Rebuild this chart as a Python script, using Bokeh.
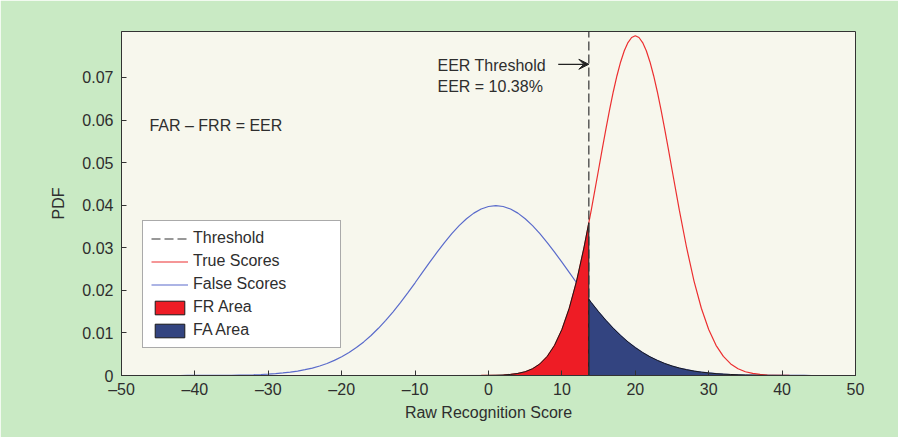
from bokeh.plotting import figure
from bokeh.models import Legend, LegendItem, FixedTicker, Label, Arrow, VeeHead, Range1d
from bokeh.embed import file_html
from bokeh.resources import INLINE

# ---- data ----
score_x = list(range(-50, 51))

false_pdf = [
    0, 0, 0, 0, 0, 0, 0, 0, 0, 0.00001,
    0.00001, 0.00001, 0.00002, 0.00003, 0.00004, 0.00006, 0.00009, 0.00012, 0.00017, 0.00024,
    0.00033, 0.00044, 0.00060, 0.00079, 0.00104, 0.00136, 0.00175, 0.00224, 0.00283, 0.00355,
    0.00440, 0.00540, 0.00656, 0.00789, 0.00940, 0.01109, 0.01295, 0.01497, 0.01714, 0.01942,
    0.02178, 0.02420, 0.02661, 0.02897, 0.03122, 0.03332, 0.03520, 0.03682, 0.03814, 0.03910,
    0.03969, 0.03989, 0.03969, 0.03910, 0.03814, 0.03682, 0.03520, 0.03332, 0.03122, 0.02897,
    0.02661, 0.02420, 0.02178, 0.01942, 0.01714, 0.01497, 0.01295, 0.01109, 0.00940, 0.00789,
    0.00656, 0.00540, 0.00440, 0.00355, 0.00283, 0.00224, 0.00175, 0.00136, 0.00104, 0.00079,
    0.00060, 0.00044, 0.00033, 0.00024, 0.00017, 0.00012, 0.00009, 0.00006, 0.00004, 0.00003,
    0.00002, 0.00001, 0.00001, 0.00001, 0, 0, 0, 0, 0, 0,
    0,
]

true_x = [
    -50, -40, -30, -20, -10, -5, -1,
    0, 1, 2, 3, 4, 5, 6, 7, 8, 9,
    10, 11, 12, 13, 14, 15, 15.5, 16, 16.5, 17, 17.5, 18, 18.5, 19, 19.5,
    20, 20.5, 21, 21.5, 22, 22.5, 23, 23.5, 24, 24.5, 25, 26, 27, 28, 29,
    30, 31, 32, 33, 34, 35, 36, 37, 38, 39,
    40, 41, 42, 50,
]
true_pdf = [
    0, 0, 0, 0, 0, 0, 0.00001,
    0.00003, 0.00006, 0.00012, 0.00025, 0.00048, 0.00089, 0.00158, 0.00272, 0.00448, 0.00709,
    0.01080, 0.01579, 0.02218, 0.02995, 0.03884, 0.04839, 0.05322, 0.05794, 0.06245, 0.06665, 0.07041, 0.07365, 0.07628, 0.07821, 0.07939,
    0.07979, 0.07939, 0.07821, 0.07628, 0.07365, 0.07041, 0.06665, 0.06245, 0.05794, 0.05322, 0.04839, 0.03884, 0.02995, 0.02218, 0.01579,
    0.01080, 0.00709, 0.00448, 0.00272, 0.00158, 0.00089, 0.00048, 0.00025, 0.00012, 0.00006,
    0.00003, 0.00001, 0, 0,
]

threshold = 13.67
true_at_threshold = 0.0359
false_at_threshold = 0.0179

x_ticks = [-50, -40, -30, -20, -10, 0, 10, 20, 30, 40, 50]
x_tick_labels = ["\u201350", "\u201340", "\u201330", "\u201320", "\u201310", "0", "10", "20", "30", "40", "50"]
y_ticks = [0, 0.01, 0.02, 0.03, 0.04, 0.05, 0.06, 0.07]
y_tick_labels = ["0", "0.01", "0.02", "0.03", "0.04", "0.05", "0.06", "0.07"]

# ---- styling ----
FONT = "Liberation Sans"
TXT = "#2e2e2e"
GREEN = "#c9eac4"
PLOTBG = "#f7f7ed"
RED_LINE = "#ec2f30"
BLUE_LINE = "#5a6bcb"
RED_FILL = "#ee1c25"
NAVY_FILL = "#334480"

Y_MAX = 0.0808

p = figure(width=898, height=437, output_backend="svg", toolbar_location=None,
           x_range=Range1d(-50, 50), y_range=Range1d(0, Y_MAX),
           min_border_left=121, min_border_right=43, min_border_top=31, min_border_bottom=62)
p.background_fill_color = PLOTBG
p.border_fill_color = GREEN
p.outline_line_color = "#333333"
p.outline_line_width = 1
p.grid.visible = False

for ax in (p.xaxis[0], p.yaxis[0]):
    ax.axis_line_color = "#333333"
    ax.major_tick_line_color = "#333333"
    ax.major_tick_in = 5
    ax.major_tick_out = 0
    ax.minor_tick_line_color = None
    ax.major_label_text_font = FONT
    ax.major_label_text_font_size = "16px"
    ax.major_label_text_color = TXT
    ax.axis_label_text_font = FONT
    ax.axis_label_text_font_size = "16px"
    ax.axis_label_text_font_style = "normal"
    ax.axis_label_text_color = TXT

p.xaxis.ticker = FixedTicker(ticks=x_ticks)
p.xaxis.major_label_overrides = {t: l for t, l in zip(x_ticks, x_tick_labels)}
p.yaxis.ticker = FixedTicker(ticks=y_ticks)
p.yaxis.major_label_overrides = {t: l for t, l in zip(y_ticks, y_tick_labels)}
p.xaxis.axis_label = "Raw Recognition Score"
p.yaxis.axis_label = "PDF"
p.xaxis.major_label_standoff = 5
p.yaxis.major_label_standoff = 8
p.xaxis.axis_label_standoff = 3
p.yaxis.axis_label_standoff = 12

# curves
r_false = p.line(score_x, false_pdf, line_color=BLUE_LINE, line_width=1.2)
r_true = p.line(true_x, true_pdf, line_color=RED_LINE, line_width=1.2)

# areas
fr_x = [x for x in true_x if x < threshold] + [threshold, threshold]
fr_y = [y for x, y in zip(true_x, true_pdf) if x < threshold] + [true_at_threshold, 0]
fa_x = [threshold, threshold] + [x for x in score_x if x > threshold]
fa_y = [0, false_at_threshold] + [y for x, y in zip(score_x, false_pdf) if x > threshold]

r_fr = p.patch(fr_x, fr_y, fill_color=RED_FILL, line_color="#1a1a1a", line_width=1)
r_fa = p.patch(fa_x, fa_y, fill_color=NAVY_FILL, line_color="#1a1a1a", line_width=1)

# threshold
r_thr = p.line([threshold, threshold], [0, Y_MAX], line_color="#333333",
               line_dash="9 4", line_width=1.2)

legend = Legend(items=[
    LegendItem(label="Threshold", renderers=[r_thr]),
    LegendItem(label="True Scores", renderers=[r_true]),
    LegendItem(label="False Scores", renderers=[r_false]),
    LegendItem(label="FR Area", renderers=[r_fr]),
    LegendItem(label="FA Area", renderers=[r_fa]),
], location=(21, 27), label_text_font=FONT, label_text_font_size="16px",
   label_text_color=TXT, glyph_width=37, glyph_height=17, label_height=18,
   label_width=139, spacing=5, padding=8, margin=0, label_standoff=5,
   border_line_color="#555555", border_line_width=1,
   background_fill_color="white", background_fill_alpha=1.0)
p.add_layout(legend)

p.add_layout(Label(x=-46.2, y=0.0587, text="FAR \u2013 FRR = EER", text_font=FONT,
                   text_font_size="16px", text_color=TXT, text_baseline="middle"))
p.add_layout(Label(x=-6.95, y=0.0728, text="EER Threshold", text_font=FONT,
                   text_font_size="16px", text_color=TXT, text_baseline="middle"))
p.add_layout(Label(x=-6.95, y=0.0679, text="EER = 10.38%", text_font=FONT,
                   text_font_size="16px", text_color=TXT, text_baseline="middle"))
p.add_layout(Arrow(end=VeeHead(size=10, fill_color="#222222", line_color="#222222"),
                   x_start=9.5, y_start=0.0731, x_end=threshold, y_end=0.0731,
                   line_color="#222222", line_width=1.2))

open("out.html", "w").write(file_html(p, INLINE))
